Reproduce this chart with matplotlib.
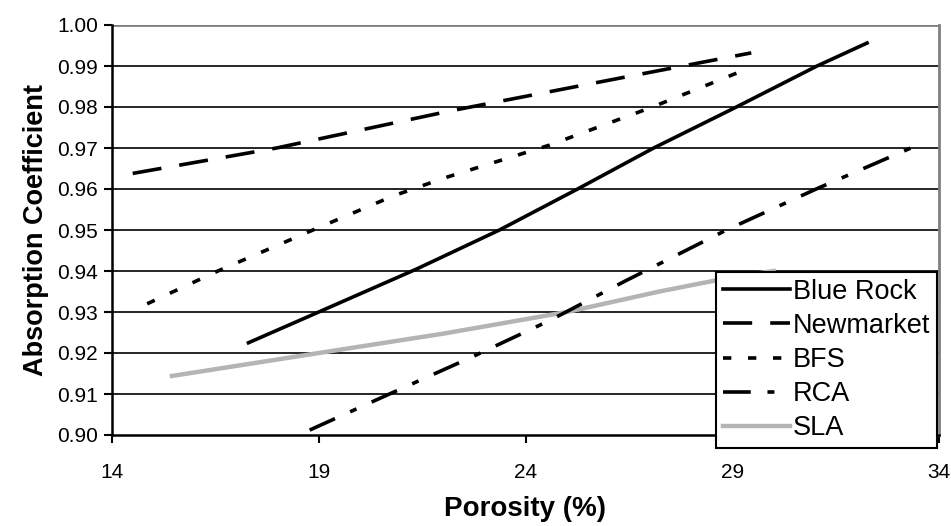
import matplotlib.pyplot as plt

plt.rcParams['font.family'] = ['Liberation Sans', 'DejaVu Sans']
plt.rcParams['lines.scale_dashes'] = False

# values
blue_rock_x = [17.3, 19.0, 21.37, 23.37, 25.26, 27.1, 29.1, 31.05, 32.26]
blue_rock_y = [0.9225, 0.930, 0.9405, 0.950, 0.960, 0.970, 0.980, 0.990, 0.9956]
newmarket_x = [14.5, 17.98, 22.16, 26.0, 29.46]
newmarket_y = [0.9638, 0.970, 0.979, 0.9865, 0.9932]
bfs_x = [14.85, 16.56, 18.86, 20.8, 22.04, 24.58, 27.07, 29.46]
bfs_y = [0.932, 0.940, 0.950, 0.9583, 0.9627, 0.9707, 0.980, 0.9897]
rca_x = [18.78, 20.71, 22.7, 24.6, 26.4, 28.86, 31.03, 33.32]
rca_y = [0.9012, 0.910, 0.919, 0.928, 0.9375, 0.950, 0.960, 0.970]
sla_x = [15.45, 19.0, 22.0, 25.0, 27.24, 29.0, 30.0]
sla_y = [0.9144, 0.920, 0.9247, 0.930, 0.935, 0.9385, 0.940]

xticks = [14, 19, 24, 29, 34]
yticks = [0.90, 0.91, 0.92, 0.93, 0.94, 0.95, 0.96, 0.97, 0.98, 0.99, 1.00]

fig = plt.figure(figsize=(9.51, 5.26), dpi=100)
ax = fig.add_axes([112 / 951, 91 / 526, 827 / 951, 410 / 526])

for yv in yticks[1:-1]:
    ax.axhline(yv, color='black', lw=1.2, zorder=1)
ax.axhline(1.0, color='#808080', lw=2, zorder=1)

lw = 2.6
ax.plot(blue_rock_x, blue_rock_y, color='black', lw=lw, label='Blue Rock', zorder=3)
ax.plot(newmarket_x, newmarket_y, color='black', lw=lw, dashes=(21, 13), label='Newmarket', zorder=3)
ax.plot(bfs_x, bfs_y, color='black', lw=lw, dashes=(6, 12), label='BFS', zorder=3)
ax.plot(rca_x, rca_y, color='black', lw=lw, dashes=(20, 12, 5, 12), label='RCA', zorder=3)
ax.plot(sla_x, sla_y, color='#b4b4b4', lw=3.2, label='SLA', zorder=2)

ax.set_xlim(14, 34)
ax.set_ylim(0.90, 1.00)
ax.set_xticks(xticks)
ax.set_yticks(yticks)
ax.set_xticklabels([str(v) for v in xticks])
ax.set_yticklabels(['%.2f' % v for v in yticks])
ax.tick_params(axis='both', direction='out', length=6, width=1.5, color='black', labelsize=15)
ax.tick_params(axis='x', pad=14)
ax.tick_params(axis='y', pad=4)

ax.spines['left'].set_linewidth(1.8)
ax.spines['bottom'].set_linewidth(1.8)
ax.spines['top'].set_visible(False)
ax.spines['right'].set_color('#808080')
ax.spines['right'].set_linewidth(2)

ax.set_ylabel('Absorption Coefficient', fontsize=19.5, fontweight='bold', labelpad=6)
ax.set_xlabel('Porosity (%)', fontsize=20, fontweight='bold', labelpad=10)

leg = ax.legend(loc='upper left', bbox_to_anchor=(716 / 951, 1 - 272 / 526),
                bbox_transform=fig.transFigure, fontsize=19.5, handlelength=2.5,
                handletextpad=0.1, labelspacing=0.3, borderpad=0.25,
                fancybox=False, framealpha=1, edgecolor='black', borderaxespad=0)
leg.get_frame().set_linewidth(1.5)
leg.set_zorder(5)

fig.savefig('out.png', dpi=100)
